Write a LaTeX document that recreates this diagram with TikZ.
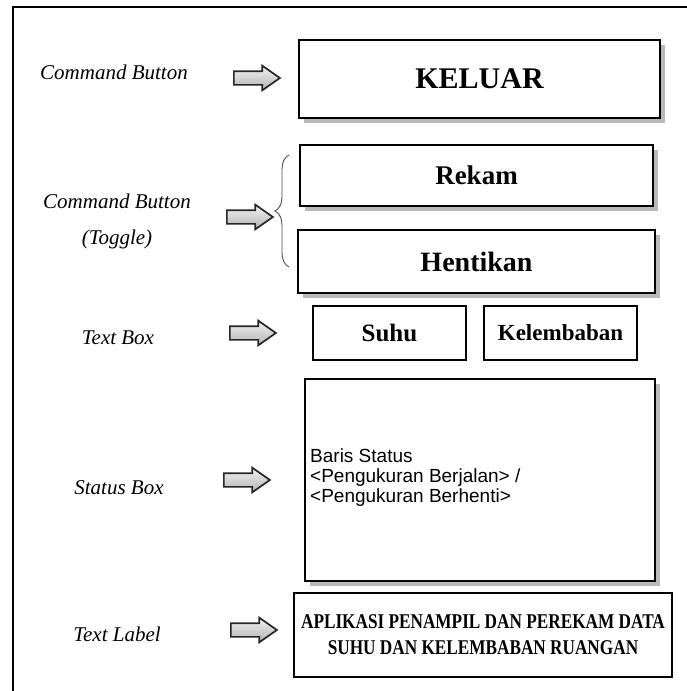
\documentclass[tikz,border=0pt]{standalone}
\usepackage{fontspec}
\setmainfont{Liberation Serif}
\setsansfont{Liberation Sans}
\newfontfamily\condserif[FakeStretch=0.82]{Liberation Serif}
\usetikzlibrary{shapes.arrows,shadows,decorations.pathreplacing}
\tikzset{
  uibox/.style={
    draw=black,
    line width=2.8pt,
    fill=white,
    inner sep=0pt,
    align=center
  },
  shade5/.style={drop shadow={shadow xshift=5pt, shadow yshift=-5pt, fill=gray!55, opacity=1}},
  kind/.style={font=\itshape\fontsize{21}{36}\selectfont, align=center, inner sep=0pt},
  pointer/.style={
    single arrow,
    draw=black!85,
    line width=1.7pt,
    minimum height=46pt,
    inner xsep=0pt,
    inner ysep=6pt,
    single arrow head extend=5.5pt,
    single arrow tip angle=70,
    top color=gray!10,
    bottom color=gray!60
  },
  btnfont/.style={font=\bfseries\fontsize{#1}{#1}\selectfont},
}

\begin{document}
\begin{tikzpicture}[x=1pt,y=-1pt]
  \useasboundingbox (0,0) rectangle (686,691);
  % frame of the form
  \draw[line width=2.4pt] (13,710) -- (13,7) -- (710,7);

  % widgets
  \node[uibox, shade5, btnfont=30, minimum width=361pt, minimum height=78pt] (keluar) at (479.5,79) {KELUAR};
  \node[uibox, shade5, btnfont=27, minimum width=353pt, minimum height=61pt] (rekam) at (476.5,175.5) {Rekam};
  \node[uibox, shade5, btnfont=28, minimum width=357pt, minimum height=63pt] (hentikan) at (476.5,261.5) {Hentikan};
  \node[uibox, btnfont=25, minimum width=153pt, minimum height=54pt] (suhu) at (389.5,333) {Suhu};
  \node[uibox, btnfont=23, minimum width=153pt, minimum height=54pt] (lembab) at (560.5,333) {Kelembaban};
  \node[uibox, shade5, minimum width=350pt, minimum height=202pt] (status) at (480,480) {};
  \node[anchor=west, align=left, inner sep=0pt, font=\sffamily\fontsize{19}{20}\selectfont] (statustxt) at (310,478)
    {Baris Status\\<Pengukuran Berjalan> /\\<Pengukuran Berhenti>};
  \node[uibox, font=\condserif\bfseries\fontsize{21}{26}\selectfont, minimum width=378pt, minimum height=84pt] (judul) at (483,635)
    {APLIKASI PENAMPIL DAN PEREKAM DATA\\SUHU DAN KELEMBABAN RUANGAN};

  % kinds of control
  \node[kind] (cmdlbl) at (114,72) {Command Button};
  \node[kind] (togglelbl) at (117,221) {Command Button\\(Toggle)};
  \node[kind] (textboxlbl) at (118,338) {Text Box};
  \node[kind] (statuslbl) at (119,488) {Status Box};
  \node[kind] (textlabellbl) at (117,634) {Text Label};

  \node[pointer] (arr1) at (252,78) {};
  \node[pointer] (arr2) at (245,217) {};
  \node[pointer] (arr3) at (248,333) {};
  \node[pointer] (arr4) at (242,480) {};
  \node[pointer] (arr5) at (249,630) {};

  \draw[decorate, decoration={brace, amplitude=14pt}, line width=0.9pt, black!70]
    (289,267) -- (289,155);
\end{tikzpicture}
\end{document}
